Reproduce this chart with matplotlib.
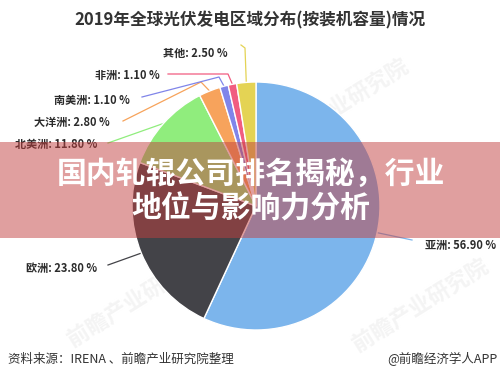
import matplotlib
matplotlib.use("Agg")
import matplotlib.pyplot as plt
from matplotlib.patches import Rectangle
import numpy as np

plt.rcParams['font.family'] = ['Noto Sans CJK SC', 'DejaVu Sans']

# data
regions = ['亚洲', '欧洲', '北美洲', '大洋洲', '南美洲', '非洲', '其他']
shares = [56.90, 23.80, 11.80, 2.80, 1.10, 1.10, 2.50]
colors = ['#7cb5ec', '#434348', '#90ed7d', '#f7a35c', '#8085e9', '#f15c80', '#e4d354']

title = '2019年全球光伏发电区域分布(按装机容量)情况'
banner = ['国内轧辊公司排名揭秘，行业', '地位与影响力分析']
source = '资料来源：IRENA 、前瞻产业研究院整理'
brand = '@前瞻经济学人APP'

# layout (pixel coords, y from top)
W, H = 500, 380
cx, cy, rad = 256, 206, 124
label_xy = [(425, 245, 'left'), (97, 268, 'right'), (97, 144, 'right'),
            (110, 122, 'right'), (130, 100, 'right'), (160, 75, 'right'),
            (228, 53, 'right')]
connectors = [[(412, 240)], [(108, 265)], [(108, 143)],
              [(201, 82), (123, 121)], [(219, 77), (142, 97)],
              [(228, 74), (168, 74)], [(245, 48), (241, 45)]]


def py(y):
    return H - y


fig = plt.figure(figsize=(5, 3.8), dpi=100)
ax = fig.add_axes([0, 0, 1, 1])

wedges, _ = ax.pie(shares, colors=colors, startangle=90, counterclock=False,
                   center=(cx, py(cy)), radius=rad,
                   wedgeprops=dict(edgecolor='white', linewidth=1))
for w in wedges:
    w.set_zorder(2)

ax.set_xlim(0, W)
ax.set_ylim(0, H)
ax.set_aspect('equal')
ax.axis('off')

# faint watermarks
for wx, wy in [(135, 300), (340, 105), (420, 305)]:
    ax.text(wx, py(wy), '前瞻产业研究院', fontsize=16, color='#f4f4f4',
            rotation=32, ha='center', va='center', zorder=0, fontweight='bold')

for w, name, val, col, (lx, ly, ha), pts in zip(wedges, regions, shares, colors,
                                                label_xy, connectors):
    ang = np.deg2rad((w.theta1 + w.theta2) / 2)
    axx = cx + rad * np.cos(ang)
    axy = py(cy) + rad * np.sin(ang)
    xs = [axx] + [p[0] for p in pts]
    ys = [axy] + [py(p[1]) for p in pts]
    ax.plot(xs, ys, color=col, lw=0.9, zorder=1)
    ax.text(lx, py(ly), f'{name}: {val:.2f} %', ha=ha, va='center',
            fontsize=8, fontweight='bold', color='#2b2b2b', zorder=3)

ax.text(250, py(20), title, ha='center', va='center', fontsize=12,
        fontweight='bold', color='#333333')

# banner overlay
ax.add_patch(Rectangle((0, py(238)), W, 96, facecolor=(0.76, 0.25, 0.25),
                       alpha=0.5, edgecolor='none', zorder=5))
ax.text(251, py(174), banner[0], ha='center', va='center', fontsize=21.5,
        fontweight='bold', color='white', zorder=6)
ax.text(251, py(209), banner[1], ha='center', va='center', fontsize=21.5,
        fontweight='bold', color='white', zorder=6)

# footer
ax.text(8, py(359), source, ha='left', va='center', fontsize=9, color='#333333')
ax.text(497, py(359), brand, ha='right', va='center', fontsize=9, color='#333333')

fig.savefig('out.png', dpi=100)
